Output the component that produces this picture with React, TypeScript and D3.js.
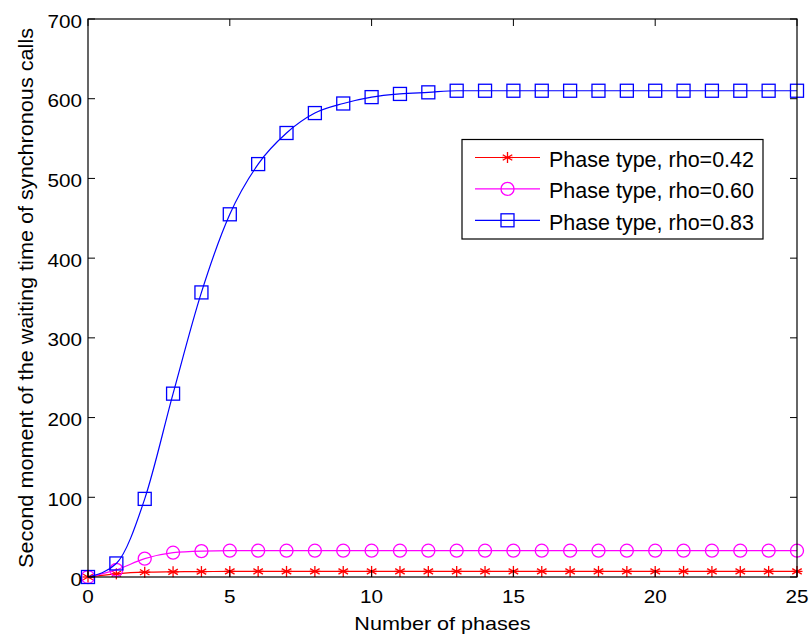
import { useEffect, useRef } from 'react'
import * as d3 from 'd3'

const PHASES = d3.range(0, 26)
const RHO_042 = [0, 4, 6, 6.5, 6.8, 7, 7, 7, 7, 7, 7, 7, 7, 7, 7, 7, 7, 7, 7, 7, 7, 7, 7, 7, 7, 7]
const RHO_060 = [0, 9, 23, 30.5, 32.5, 33, 33, 33, 33, 33, 33, 33, 33, 33, 33, 33, 33, 33, 33, 33, 33, 33, 33, 33, 33, 33]
const RHO_083 = [0, 17, 98, 230, 357, 455, 518, 557, 582, 594, 602, 606, 608, 610, 610, 610, 610, 610, 610, 610, 610, 610, 610, 610, 610, 610]

const X_TICKS = [0, 5, 10, 15, 20, 25]
const Y_TICKS = [0, 100, 200, 300, 400, 500, 600, 700]

const SERIES = [
  { name: 'Phase type, rho=0.42', values: RHO_042, color: '#ff0000', marker: 'star' },
  { name: 'Phase type, rho=0.60', values: RHO_060, color: '#ff00ff', marker: 'circle' },
  { name: 'Phase type, rho=0.83', values: RHO_083, color: '#0000ff', marker: 'square' },
]

const FONT = '"Liberation Sans", Arial, sans-serif'

function drawMarker(g: any, kind: string, cx: number, cy: number, color: string) {
  if (kind === 'square') {
    g.append('rect')
      .attr('x', cx - 6.5).attr('y', cy - 6.5)
      .attr('width', 13).attr('height', 13)
      .attr('fill', 'none').attr('stroke', color).attr('stroke-width', 1.3)
  } else if (kind === 'circle') {
    g.append('circle')
      .attr('cx', cx).attr('cy', cy).attr('r', 6.5)
      .attr('fill', 'none').attr('stroke', color).attr('stroke-width', 1.3)
  } else {
    const r = 5.5
    ;[0, 60, 120].forEach(a => {
      const t = (a * Math.PI) / 180
      g.append('line')
        .attr('x1', cx - r * Math.sin(t)).attr('y1', cy - r * Math.cos(t))
        .attr('x2', cx + r * Math.sin(t)).attr('y2', cy + r * Math.cos(t))
        .attr('stroke', color).attr('stroke-width', 1.3)
    })
    g.append('line')
      .attr('x1', cx - r).attr('x2', cx + r)
      .attr('y1', cy).attr('y2', cy)
      .attr('stroke', color).attr('stroke-width', 1.3)
  }
}

// text with a horizontal stretch, like the exported figure
function addText(parent: any, x: number, y: number, str: string | number, size: number, sx: number, anchor: string, rot = 0) {
  parent.append('text')
    .attr('transform', `translate(${x},${y}) rotate(${rot}) scale(${sx},1)`)
    .attr('text-anchor', anchor)
    .attr('font-family', FONT).attr('font-size', size)
    .attr('fill', '#000')
    .text(str)
}

export default function App() {
  const svgRef = useRef<SVGSVGElement>(null)

  useEffect(() => {
    if (!svgRef.current) return
    const W = 811
    const H = 639
    const margin = { top: 19, right: 14, bottom: 62, left: 88 }
    const w = W - margin.left - margin.right
    const h = H - margin.top - margin.bottom

    const svg = d3.select(svgRef.current)
    svg.selectAll('*').remove()
    svg.attr('width', W).attr('height', H)

    svg.append('rect').attr('width', W).attr('height', H).attr('fill', '#fff')

    const g = svg.append('g').attr('transform', `translate(${margin.left},${margin.top})`)

    const x = d3.scaleLinear().domain([0, 25]).range([0, w])
    const y = d3.scaleLinear().domain([0, 700]).range([h, 0])

    // Series
    const line = d3.line<number>()
      .x((_, i) => x(PHASES[i]))
      .y(d => y(d))
      .curve(d3.curveMonotoneX)

    SERIES.forEach(s => {
      g.append('path')
        .attr('d', line(s.values))
        .attr('fill', 'none')
        .attr('stroke', s.color)
        .attr('stroke-width', 1.2)
      s.values.forEach((v, i) => drawMarker(g, s.marker, x(PHASES[i]), y(v), s.color))
    })

    // Box
    g.append('rect')
      .attr('width', w).attr('height', h)
      .attr('fill', 'none').attr('stroke', '#000').attr('stroke-width', 1.2)

    // Ticks (inward, both sides)
    X_TICKS.forEach(t => {
      g.append('line').attr('x1', x(t)).attr('x2', x(t)).attr('y1', h).attr('y2', h - 7)
        .attr('stroke', '#000')
      g.append('line').attr('x1', x(t)).attr('x2', x(t)).attr('y1', 0).attr('y2', 7)
        .attr('stroke', '#000')
      addText(g, x(t), h + 26, t, 19, 1.09, 'middle')
    })
    Y_TICKS.forEach(t => {
      g.append('line').attr('x1', 0).attr('x2', 7).attr('y1', y(t)).attr('y2', y(t))
        .attr('stroke', '#000')
      g.append('line').attr('x1', w).attr('x2', w - 7).attr('y1', y(t)).attr('y2', y(t))
        .attr('stroke', '#000')
      addText(g, -6, y(t) + 8.5, t, 19, 1.09, 'end')
    })

    // Axis labels
    addText(g, w / 2, h + 52.5, 'Number of phases', 18, 1.2, 'middle')
    addText(g, -55.5, h / 2, 'Second moment of the waiting time of synchronous calls', 19.5, 1.11, 'middle', -90)

    // Legend
    const lg = svg.append('g').attr('transform', 'translate(462,139.5)')
    lg.append('rect')
      .attr('width', 301).attr('height', 99.5)
      .attr('fill', '#fff').attr('stroke', '#000').attr('stroke-width', 1.2)
    SERIES.forEach((s, i) => {
      const cy = 18 + i * 31.4
      lg.append('line').attr('x1', 13).attr('x2', 78).attr('y1', cy).attr('y2', cy)
        .attr('stroke', s.color).attr('stroke-width', 1.2)
      drawMarker(lg, s.marker, 45.5, cy, s.color)
      addText(lg, 87, cy + 9.4, s.name, 21.5, 1, 'start')
    })
  }, [])

  return <svg ref={svgRef} style={{ display: 'block', position: 'absolute', left: 0, top: 0 }} />
}
